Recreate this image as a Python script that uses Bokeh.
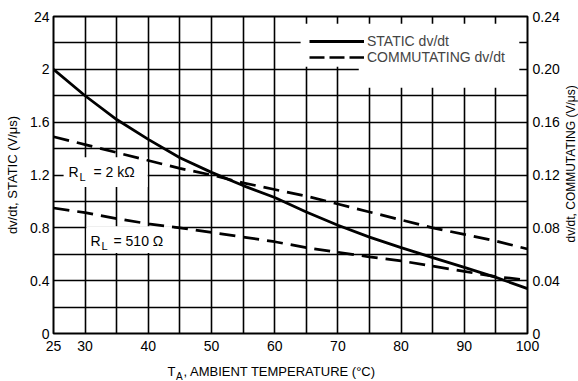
import math
from bokeh.plotting import figure
from bokeh.layouts import column, row
from bokeh.models import (Range1d, LinearAxis, FixedTicker, BoxAnnotation, Label,
                          Legend, LegendItem)
from bokeh.embed import file_html
from bokeh.resources import INLINE

# ---- data ----
temps = [25, 30, 35, 40, 45, 50, 55, 60, 65, 70, 75, 80, 85, 90, 95, 100]
static_dvdt = [2.0, 1.80, 1.62, 1.47, 1.33, 1.22, 1.12, 1.03, 0.92, 0.82, 0.73,
               0.65, 0.575, 0.50, 0.425, 0.34]
comm_2k = [0.149, 0.143, 0.137, 0.131, 0.125, 0.120, 0.114, 0.109, 0.104, 0.098,
           0.092, 0.086, 0.080, 0.075, 0.070, 0.064]
comm_510 = [0.095, 0.0915, 0.087, 0.083, 0.080, 0.0765, 0.073, 0.0695, 0.065,
            0.0615, 0.058, 0.055, 0.051, 0.047, 0.043, 0.0405]

x_ticks = [25, 30, 40, 50, 60, 70, 80, 90, 100]
x_tick_labels = ["25", "30", "40", "50", "60", "70", "80", "90", "100"]
y_ticks = [0, 0.4, 0.8, 1.2, 1.6, 2.0, 2.4]
y_tick_labels = ["0", "0.4", "0.8", "1.2", "1.6", "2", "24"]
y2_ticks = [0, 0.04, 0.08, 0.12, 0.16, 0.20, 0.24]
y2_tick_labels = ["0", "0.04", "0.08", "0.12", "0.16", "0.20", "0.24"]
x_grid = list(range(25, 101, 5))
y_grid = [0, 0.2, 0.4, 0.6, 0.8, 1.0, 1.2, 1.4, 1.6, 1.8, 2.0, 2.2, 2.4]

FONT = "Liberation Sans"
FS = "14px"

p = figure(width=562, height=357, x_range=Range1d(25, 100), y_range=Range1d(0, 2.4),
           output_backend="svg", toolbar_location=None,
           min_border_left=53, min_border_right=35, min_border_top=16,
           min_border_bottom=24)
p.extra_y_ranges = {"comm": Range1d(0, 0.24)}

p.outline_line_color = "black"
p.outline_line_width = 2

for g, tk in ((p.xgrid, x_grid), (p.ygrid, y_grid)):
    g.ticker = FixedTicker(ticks=tk)
    g.grid_line_color = "black"
    g.grid_line_width = 1.6
    g.grid_line_alpha = 1

ax = p.xaxis[0]
ax.ticker = FixedTicker(ticks=x_ticks)
ax.major_label_overrides = {t: l for t, l in zip(x_ticks, x_tick_labels)}
ay = p.yaxis[0]
ay.ticker = FixedTicker(ticks=y_ticks)
ay.major_label_overrides = {t: l for t, l in zip(y_ticks, y_tick_labels)}
ay.axis_label = "dv/dt, STATIC (V/\u03bcs)"
ay.axis_label_text_font = FONT
ay.axis_label_text_font_size = "13px"
ay.axis_label_text_font_style = "normal"
ay.axis_label_text_color = "black"
ay.axis_label_standoff = 7
ay2 = LinearAxis(y_range_name="comm", ticker=FixedTicker(ticks=y2_ticks))
ay2.major_label_overrides = {t: l for t, l in zip(y2_ticks, y2_tick_labels)}
p.add_layout(ay2, "right")

for a in (ax, ay, ay2):
    a.axis_line_color = None
    a.major_tick_line_color = None
    a.minor_tick_line_color = None
    a.major_tick_out = 0
    a.major_tick_in = 0
    a.major_label_text_font = FONT
    a.major_label_text_font_size = FS
    a.major_label_text_color = "black"
ax.major_label_standoff = 7
ay.major_label_standoff = 4
ay2.major_label_standoff = 5

# white backgrounds (legend area and curve labels)
boxes = [
    dict(left=64.1, right=98.7, bottom=2.02, top=2.345),
    dict(left=73.3, right=98.7, bottom=1.86, top=2.1),
    dict(left=26.6, right=39.9, bottom=1.11, top=1.335),
    dict(left=30.2, right=44.1, bottom=0.61, top=0.812),
]
for b in boxes:
    p.add_layout(BoxAnnotation(fill_color="white", fill_alpha=1, line_color=None,
                               level="underlay", **b))

r_static = p.line(temps, static_dvdt, line_color="black", line_width=2.8)
r_2k = p.line(temps, comm_2k, y_range_name="comm", line_color="black",
              line_width=2.7, line_dash="16 8")
r_510 = p.line(temps, comm_510, y_range_name="comm", line_color="black",
               line_width=2.7, line_dash="16 8")
r_leg_dash = p.line([float("nan")], [float("nan")], y_range_name="comm",
                    line_color="black", line_width=2.4, line_dash="15 5")

legend = Legend(items=[LegendItem(label="STATIC dv/dt", renderers=[r_static]),
                       LegendItem(label="COMMUTATING dv/dt", renderers=[r_leg_dash])],
                location=(251, 263), background_fill_alpha=0, border_line_alpha=0,
                glyph_width=55, glyph_height=14, label_height=14, spacing=-2,
                padding=5, margin=0, label_standoff=3,
                label_text_font=FONT, label_text_font_size=FS)
p.add_layout(legend)

def lab(fig, text, x, y, xo, yo, size=FS, align="left", angle=0.0):
    fig.add_layout(Label(x=x, y=y, x_offset=xo, y_offset=yo, text=text,
                         text_font=FONT, text_font_size=size, text_align=align,
                         text_baseline="middle", angle=angle, text_color="black"))

# curve labels
lab(p, "R", 25, 1.226, 15, 0)
lab(p, "L", 25, 1.226, 26, -5, size="11px")
lab(p, "= 2 k\u03a9", 25, 1.226, 40, 0)
lab(p, "R", 25, 0.70, 37, 0)
lab(p, "L", 25, 0.70, 48, -5, size="11px")
lab(p, "= 510 \u03a9", 25, 0.70, 60, 0)

def blank(w, h):
    f = figure(width=w, height=h, x_range=Range1d(0, w), y_range=Range1d(0, h),
               output_backend="svg", toolbar_location=None,
               x_axis_type=None, y_axis_type=None, min_border=0)
    f.outline_line_color = None
    f.grid.visible = False
    return f

# right-hand axis title (reads bottom to top)
pr = blank(16, 357)
lab(pr, "dv/dt, COMMUTATING (V/\u03bcs)", 8, 191, 0, 0, size="12px", align="center",
    angle=math.pi / 2)

# x-axis title with subscript
pb = blank(578, 24)
lab(pb, "T", 167, 10, 0, 0, size="13px")
lab(pb, "A", 175.5, 5, 0, 0, size="10px")
lab(pb, ", AMBIENT TEMPERATURE (\u00b0C)", 183, 10, 0, 0, size="13px")

layout = column(row(p, pr), pb)
open("out.html", "w").write(file_html(layout, INLINE))
